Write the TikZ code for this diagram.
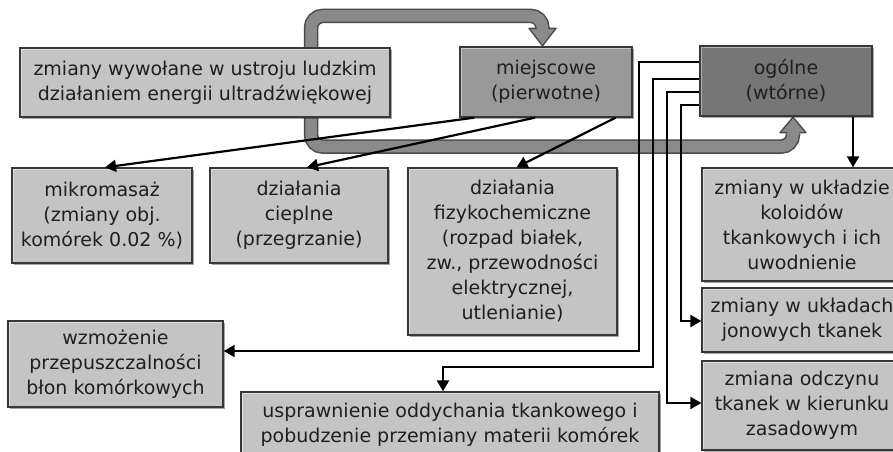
\documentclass[tikz,border=0pt]{standalone}
\usepackage{fontspec}
\setmainfont{DejaVu Sans}
\usetikzlibrary{arrows.meta,shadows,calc}
\pgfdeclarelayer{bg}
\pgfsetlayers{bg,main}
\definecolor{boxlight}{HTML}{C4C4C4}
\definecolor{boxmid}{HTML}{999999}
\definecolor{boxdark}{HTML}{767676}
\definecolor{edgecol}{HTML}{383838}
\definecolor{bandfill}{HTML}{8A8A8A}
\definecolor{bandedge}{HTML}{4A4A4A}
\tikzset{
  box/.style={draw=edgecol, line width=1.3pt, fill=boxlight, align=center,
    inner sep=0pt, font=\fontsize{19}{25}\selectfont, text=black!88,
    drop shadow={shadow xshift=1.5pt, shadow yshift=-1.5pt, opacity=.35, fill=black},
    path picture={
      \draw[white, opacity=.45, line width=3pt]
        (path picture bounding box.south west) -- (path picture bounding box.north west)
        -- (path picture bounding box.north east);
      \draw[black, opacity=.22, line width=3pt]
        (path picture bounding box.north east) -- (path picture bounding box.south east)
        -- (path picture bounding box.south west);
    }},
  conn/.style={line width=2.2pt, -{Triangle[length=11pt,width=12pt]}},
  bandout/.style={draw=bandedge, line width=14.5pt, rounded corners=12pt},
  bandin/.style={draw=bandfill, line width=11.5pt, rounded corners=12pt},
  bandhead/.style={fill=bandfill, draw=bandedge, line width=1.3pt, line join=round},
}
\begin{document}
\begin{tikzpicture}[x=1pt,y=-1pt]
\useasboundingbox (0,0) rectangle (893,451);
\clip (0,0) rectangle (893,451);

% boxes
\node[box, minimum width=370pt, minimum height=69pt] (src) at (205,82.5)
  {zmiany wywołane w ustroju ludzkim\\działaniem energii ultradźwiękowej};
\node[box, fill=boxmid, minimum width=172pt, minimum height=70pt] (loc) at (546,82)
  {miejscowe\\(pierwotne)};
\node[box, fill=boxdark, minimum width=172pt, minimum height=70pt] (gen) at (786,81)
  {ogólne\\(wtórne)};
\node[box, minimum width=180pt, minimum height=95pt] (mik) at (102,215.5)
  {mikromasaż\\(zmiany obj.\\komórek 0.02 \%)};
\node[box, minimum width=178pt, minimum height=95pt] (cie) at (299,215.5)
  {działania\\cieplne\\(przegrzanie)};
\node[box, minimum width=209pt, minimum height=167pt] (fiz) at (512.5,251.5)
  {działania\\fizykochemiczne\\(rozpad białek,\\zw., przewodności\\elektrycznej,\\utlenianie)};
\node[box, minimum width=200pt, minimum height=113pt] (kol) at (802,224.5)
  {zmiany w układzie\\koloidów\\tkankowych i ich\\uwodnienie};
\node[box, minimum width=200pt, minimum height=64pt] (jon) at (802,320)
  {zmiany w układach\\jonowych tkanek};
\node[box, minimum width=200pt, minimum height=89pt] (odc) at (802,405.5)
  {zmiana odczynu\\tkanek w kierunku\\zasadowym};
\node[box, minimum width=215pt, minimum height=86pt] (wzm) at (115.5,364)
  {wzmożenie\\przepuszczalności\\błon komórkowych};
\node[box, minimum width=418pt, minimum height=65pt] (usp) at (450,424.5)
  {usprawnienie oddychania tkankowego i\\pobudzenie przemiany materii komórek};

% thick grey arrows (behind the boxes)
\begin{pgfonlayer}{bg}
  \draw[bandout] ([xshift=106pt,yshift=-10pt]src.north) -- ++(0,-41.5)
     -| ([xshift=-3.5pt,yshift=17pt]loc.north);
  \filldraw[bandhead] ([xshift=-17pt,yshift=18pt]loc.north) -- ([xshift=10pt,yshift=18pt]loc.north)
     -- ([xshift=-3.5pt,yshift=0.5pt]loc.north) -- cycle;
  \draw[bandin] ([xshift=106pt,yshift=-10pt]src.north) -- ++(0,-41.5)
     -| ([xshift=-3.5pt,yshift=16pt]loc.north);

  \draw[bandout] ([xshift=106pt,yshift=10pt]src.south) -- ++(0,39)
     -| ([xshift=7pt,yshift=-17pt]gen.south);
  \filldraw[bandhead] ([xshift=-6pt,yshift=-16pt]gen.south) -- ([xshift=20pt,yshift=-16pt]gen.south)
     -- ([xshift=7pt,yshift=-0.5pt]gen.south) -- cycle;
  \draw[bandin] ([xshift=106pt,yshift=10pt]src.south) -- ++(0,39)
     -| ([xshift=7pt,yshift=-15pt]gen.south);
\end{pgfonlayer}

% connectors from "miejscowe"
\draw[conn] ([xshift=15pt]loc.south west) -- ([xshift=3pt]mik.north);
\draw[conn] ([xshift=-11pt]loc.south) -- ([xshift=8pt]cie.north);
\draw[conn] ([xshift=-17pt]loc.south east) -- ([xshift=4pt]fiz.north);

% connectors from "ogólne"
\draw[conn] ([yshift=19pt]gen.west) -- ++(-60,0) |- ([yshift=13pt]wzm.east);
\draw[conn] ([yshift=2pt]gen.west) -- ++(-46,0) -- ++(0,288) -| ([xshift=-7pt]usp.north);
\draw[conn] ([yshift=-11pt]gen.west) -- ++(-32,0) |- ([yshift=2.5pt]odc.west);
\draw[conn] ([yshift=-24pt]gen.west) -- ++(-18,0) |- ([yshift=-1pt]jon.west);
\draw[conn] ([xshift=67pt]gen.south) -- ([xshift=67pt]gen.south |- kol.north);
\end{tikzpicture}
\end{document}
